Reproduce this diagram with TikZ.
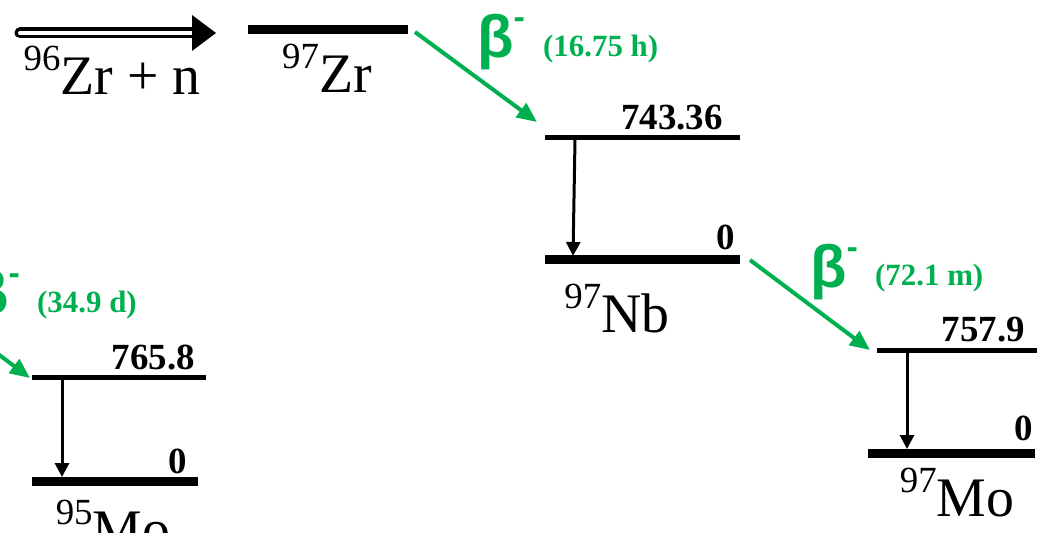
\documentclass[tikz,border=0pt]{standalone}
\usepackage{fontspec}
\setmainfont{Liberation Serif}
\newfontfamily\betafont{Liberation Sans}
\usetikzlibrary{arrows.meta}
\definecolor{decaygreen}{RGB}{0,176,80}
\newcommand{\nucl}[2]{\raisebox{24bp}{\fontsize{37}{37}\selectfont #1}#2}
\tikzset{
  level/.style={line width=5bp},
  ground/.style={line width=9bp},
  decay/.style={decaygreen, line width=4bp, -{Triangle[length=20bp,width=17bp]}},
  gamma/.style={line width=3bp, -{Triangle[length=14bp,width=14bp]}},
  energy/.style={font=\bfseries\fontsize{37}{37}\selectfont, anchor=base east, inner sep=0},
  nuclide/.style={font=\fontsize{56}{56}\selectfont, anchor=base, inner sep=0},
  halflife/.style={text=decaygreen, font=\bfseries\fontsize{31}{31}\selectfont, anchor=base west, inner sep=0},
  betalabel/.style={text=decaygreen, font=\betafont\bfseries\fontsize{60}{60}\selectfont, anchor=base west, inner sep=0},
}
\newcommand{\betaminus}{β\raisebox{29bp}{\fontsize{34}{34}\selectfont -}}
\begin{document}
\begin{tikzpicture}[x=1bp,y=-1bp]
\useasboundingbox (0,0) rectangle (1048,533);
\clip (0,0) rectangle (1048,533);

% incoming beam
\coordinate (inStart) at (20,33);
\coordinate (inHead) at (194,33);
\coordinate (inEnd) at (216,33);
\draw[line width=3.5bp, double=white, double distance=4bp, line cap=round] (inStart) -- (inHead);
\fill (inEnd) -- ++(-24,-18) -- ++(0,36) -- cycle;
\node[nuclide] (zr96) at (112,95) {\nucl{96}{Zr + n}};

% 97Zr
\coordinate (zrL) at (248,30);
\coordinate (zrR) at (408,30);
\draw[ground] (zrL) -- (zrR);
\node[nuclide] (zr97) at (327,93) {\nucl{97}{Zr}};

% 97Nb
\coordinate (nbAL) at (545,138);
\coordinate (nbAR) at (740,138);
\coordinate (nbGL) at (545,260);
\coordinate (nbGR) at (740,260);
\draw[level] (nbAL) -- (nbAR);
\draw[ground] (nbGL) -- (nbGR);
\node[energy] (e743) at (723,130) {743.36};
\node[energy] (e0nb) at (735,250) {0};
\node[nuclide] (nb97) at (617,333) {\nucl{97}{Nb}};
\coordinate (nbTop) at (575,140);
\coordinate (nbBot) at (573,256);
\draw[gamma] (nbTop) -- (nbBot);

% 97Mo
\coordinate (moAL) at (877,351);
\coordinate (moAR) at (1037,351);
\coordinate (moGL) at (868,453);
\coordinate (moGR) at (1035,453);
\draw[level] (moAL) -- (moAR);
\draw[ground] (moGL) -- (moGR);
\node[energy] (e757) at (1025,342) {757.9};
\node[energy] (e0mo) at (1033,440) {0};
\node[nuclide] (mo97) at (957,516) {\nucl{97}{Mo}};
\coordinate (moTop) at (907,353);
\coordinate (moBot) at (907,449);
\draw[gamma] (moTop) -- (moBot);

% 95Mo
\coordinate (mfAL) at (32,377);
\coordinate (mfAR) at (206,377);
\coordinate (mfGL) at (32,481);
\coordinate (mfGR) at (198,481);
\draw[level] (mfAL) -- (mfAR);
\draw[ground] (mfGL) -- (mfGR);
\node[energy] (e765) at (195,370) {765.8};
\node[energy] (e0mf) at (187,473) {0};
\node[nuclide] (mo95) at (113,548) {\nucl{95}{Mo}};
\coordinate (mfTop) at (62,379);
\coordinate (mfBot) at (62,477);
\draw[gamma] (mfTop) -- (mfBot);

% beta decays
\coordinate (zrOut) at (415,32);
\coordinate (nbIn) at (537,122);
\draw[decay] (zrOut) -- (nbIn);
\node[betalabel] (b1) at (477,58) {\betaminus};
\node[halflife] (t1) at (543,57) {(16.75 h)};

\coordinate (nbOut) at (750,260);
\coordinate (moIn) at (870,350);
\draw[decay] (nbOut) -- (moIn);
\node[betalabel] (b2) at (810,288) {\betaminus};
\node[halflife] (t2) at (875,286) {(72.1 m)};

\coordinate (mfOut) at (-90,288);
\coordinate (mfIn) at (30,378);
\draw[decay] (mfOut) -- (mfIn);
\node[betalabel] (b3) at (-28,314) {\betaminus};
\node[halflife] (t3) at (37,313) {(34.9 d)};
\end{tikzpicture}
\end{document}
